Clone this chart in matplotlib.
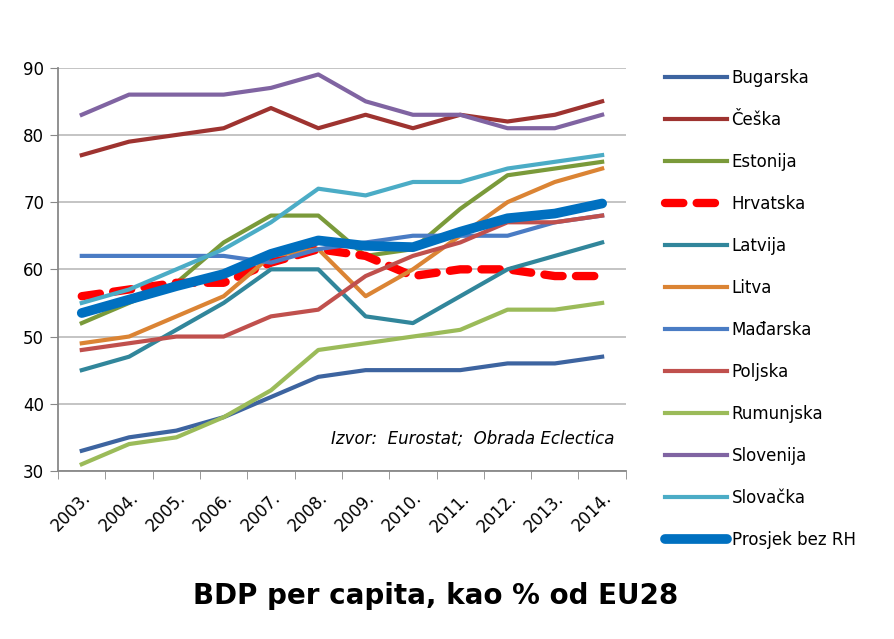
import matplotlib
matplotlib.use("Agg")
import matplotlib.pyplot as plt
import numpy as np

years = ["2003.", "2004.", "2005.", "2006.", "2007.", "2008.",
         "2009.", "2010.", "2011.", "2012.", "2013.", "2014."]

bugarska = [33, 35, 36, 38, 41, 44, 45, 45, 45, 46, 46, 47]
ceska = [77, 79, 80, 81, 84, 81, 83, 81, 83, 82, 83, 85]
estonija = [52, 55, 58, 64, 68, 68, 62, 63, 69, 74, 75, 76]
hrvatska = [56, 57, 58, 58, 61, 63, 62, 59, 60, 60, 59, 59]
latvija = [45, 47, 51, 55, 60, 60, 53, 52, 56, 60, 62, 64]
litva = [49, 50, 53, 56, 62, 63, 56, 60, 65, 70, 73, 75]
madarska = [62, 62, 62, 62, 61, 63, 64, 65, 65, 65, 67, 68]
poljska = [48, 49, 50, 50, 53, 54, 59, 62, 64, 67, 67, 68]
rumunjska = [31, 34, 35, 38, 42, 48, 49, 50, 51, 54, 54, 55]
slovenija = [83, 86, 86, 86, 87, 89, 85, 83, 83, 81, 81, 83]
slovacka = [55, 57, 60, 63, 67, 72, 71, 73, 73, 75, 76, 77]
prosjek = [53.5, 55.5, 57.5, 59.3, 62.3, 64.3, 63.5, 63.3, 65.6, 67.6, 68.3, 69.8]

fig = plt.figure(figsize=(8.94, 6.39), dpi=100)
ax = fig.add_axes([0.065, 0.263, 0.635, 0.631])

x = np.arange(len(years))

ax.plot(x, bugarska, color="#3D64A0", lw=3, label="Bugarska")
ax.plot(x, ceska, color="#9E3330", lw=3, label="Češka")
ax.plot(x, estonija, color="#7A9A3A", lw=3, label="Estonija")
ax.plot(x, hrvatska, color="#FF0000", lw=6, ls=(0, (2.2, 1.6)),
        dash_capstyle="round", label="Hrvatska")
ax.plot(x, latvija, color="#31869B", lw=3, label="Latvija")
ax.plot(x, litva, color="#DB8434", lw=3, label="Litva")
ax.plot(x, madarska, color="#4A7CC4", lw=3, label="Mađarska")
ax.plot(x, poljska, color="#C0504D", lw=3, label="Poljska")
ax.plot(x, rumunjska, color="#9BBB59", lw=3, label="Rumunjska")
ax.plot(x, slovenija, color="#8064A2", lw=3, label="Slovenija")
ax.plot(x, slovacka, color="#4BACC6", lw=3, label="Slovačka")
ax.plot(x, prosjek, color="#0070C0", lw=7, solid_capstyle="round",
        label="Prosjek bez RH")

ax.set_xlim(-0.5, len(years) - 0.5)
ax.set_ylim(30, 90)
ax.set_yticks(range(30, 91, 10))
ax.yaxis.grid(True, color="#BFBFBF", lw=1.3)
ax.set_axisbelow(True)

ax.set_xticks(x)
ax.set_xticklabels(years, rotation=45, ha="right", rotation_mode="anchor")
ax.set_xticks(np.arange(-0.5, len(years), 1), minor=True)
ax.tick_params(axis="x", which="major", length=0, labelsize=12, pad=13)
ax.tick_params(axis="x", which="minor", length=6, color="#888888", direction="out")
ax.tick_params(axis="y", length=6, color="#888888", labelsize=12, pad=4)

for s in ["top", "right"]:
    ax.spines[s].set_visible(False)
for s in ["left", "bottom"]:
    ax.spines[s].set_color("#888888")
    ax.spines[s].set_linewidth(1.3)

ax.text(0.98, 0.058, "Izvor:  Eurostat;  Obrada Eclectica", transform=ax.transAxes,
        ha="right", va="bottom", fontsize=12, style="italic")

fig.legend(loc="upper left", bbox_to_anchor=(0.727, 0.915), frameon=False,
           fontsize=12, handlelength=3.7, handletextpad=0.3, labelspacing=1.44)

fig.text(0.487, 0.068, "BDP per capita, kao % od EU28", ha="center",
         va="center", fontsize=20, fontweight="bold")

fig.savefig("out.png", dpi=100)
